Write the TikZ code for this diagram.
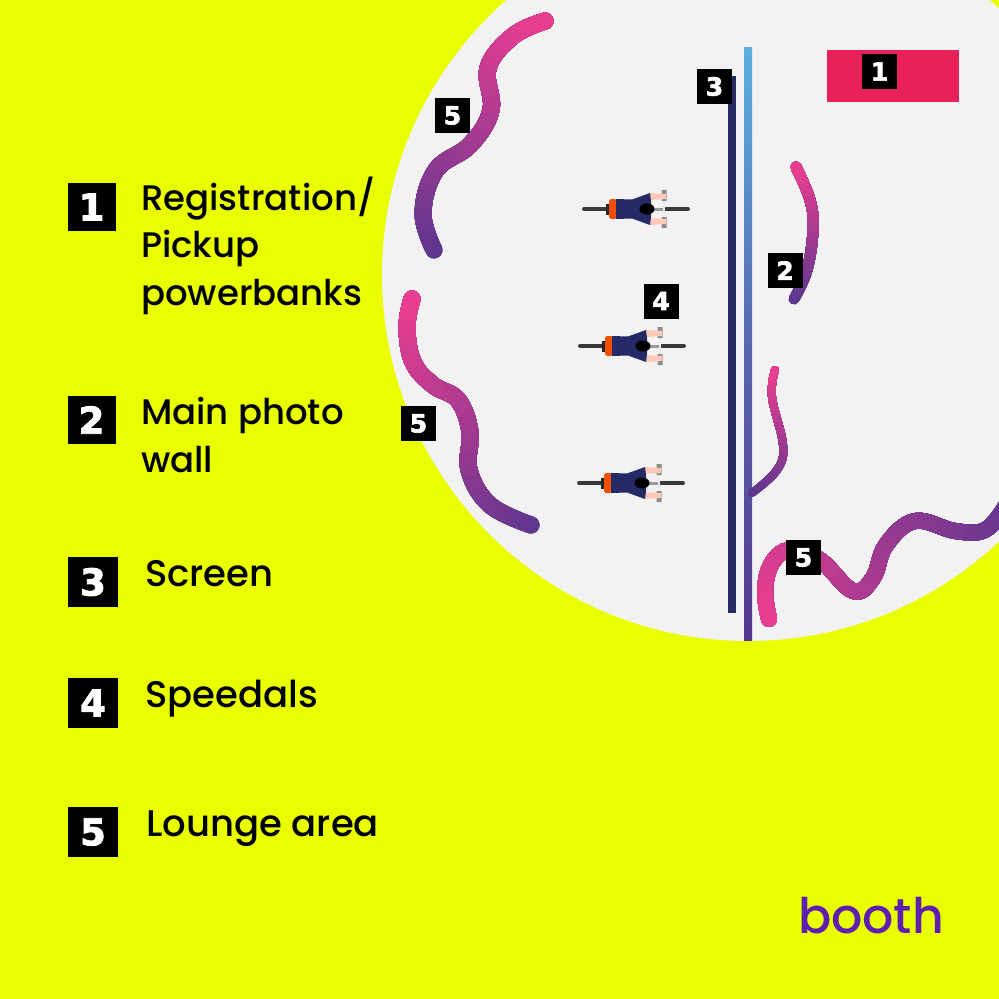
\documentclass[tikz,border=0pt]{standalone}
\usepackage{fontspec}
\setmainfont{Poppins Medium}
\newfontfamily\numfont{DejaVu Sans Bold}[FakeBold=2.5]
\usepackage{xcolor}
\usetikzlibrary{shapes.geometric}
\definecolor{lime}{HTML}{E9FF00}
\definecolor{floorgrey}{HTML}{F2F2F2}
\definecolor{wallpink}{HTML}{E83E90}
\definecolor{wallpurple}{HTML}{55368F}
\definecolor{screenblue}{HTML}{5AB0E0}
\definecolor{screendark}{HTML}{272D63}
\definecolor{regred}{HTML}{E8215A}
\definecolor{boothpurple}{HTML}{5E1FB0}
\definecolor{jersey}{HTML}{232A66}
\definecolor{skin}{HTML}{FFC9B8}
\definecolor{saddle}{HTML}{F04E00}
\tikzset{
 mapbox/.style={fill=black,text=white,minimum size=35pt,inner sep=0pt,font=\numfont\fontsize{25}{25}\selectfont},
 keybox/.style={fill=black,text=white,minimum size=#1,inner sep=0pt,font=\numfont\fontsize{37}{37}\selectfont},
 legend/.style={anchor=base west,inner sep=0pt,font=\fontsize{#1}{47.5}\selectfont,align=left},
}
% one wall: same path again and again, each time a bit shorter and pinker
\newcommand{\wall}[3]{%
 \draw[wallpurple,line width=#1,line cap=round] plot[smooth,tension=.65] coordinates {#3};
 \foreach \i in {1,...,40}{
  \pgfmathsetmacro{\mixval}{2.5*\i}
  \pgfmathsetmacro{\lenval}{#2*(41-\i)/40}
  \draw[wallpink!\mixval!wallpurple,line width=#1,line cap=round,dash pattern=on \lenval pt off 5000pt] plot[smooth,tension=.65] coordinates {#3};
 }}
% one rider, (0,0) at the helmet
\newcommand{\rider}[1]{%
 \begin{scope}[shift={(#1)}]
  \draw[black!78,line width=4pt,line cap=round] (-63,0) -- (-41,0) (19,0) -- (41,0);
  \draw[black!8,line width=1.5pt] (17,-12) -- (17,12);
  \draw[black!40,line width=3pt] (0,0) -- (16,0);
  \fill[black!45] (14.5,-19) rectangle (19.5,-8) (14.5,8) rectangle (19.5,19);
  \fill[skin] (3,-16) -- (19,-15) -- (19,-10) -- (3,-9) -- cycle (3,16) -- (19,15) -- (19,10) -- (3,9) -- cycle;
  \fill[black!85] (-41,-5.5) rectangle (-36,5.5);
  \fill[saddle,rounded corners=2.5pt] (-38,-10) rectangle (-30,10);
  \fill[jersey] (-31,-10) -- (-15,-9.5) -- (3,-16) -- (4,-8) -- (4,8) -- (3,16) -- (-15,9.5) -- (-31,10) -- cycle;
  \fill[black] (0,0) ellipse (7.5 and 5.5);
 \end{scope}}
\begin{document}
\begin{tikzpicture}[x=1pt,y=-1pt]
 \fill[lime] (0,0) rectangle (999,999);
 \useasboundingbox (0,0) rectangle (999,999);
 \clip (0,0) rectangle (999,999);
 \fill[floorgrey] (748,275) circle (366);

 \fill[regred] (827,50) rectangle (959,102);
 \fill[screendark] (728,76) rectangle (736,613);
 \shade[top color=screenblue,bottom color=wallpurple,middle color=wallpurple!60!screenblue] (744,47) rectangle (752,640);

 \wall{17pt}{300}{(545,21) (513,36) (488,68) (491,110) (470,145) (436,170) (423,213) (434,250)}
 \wall{17pt}{300}{(412,299) (407,327) (413,362) (433,385) (458,400) (470,432) (469,470) (490,505) (531,525)}
 \wall{11pt}{140}{(796,167) (810,200) (813,230) (807,270) (794,299)}
 \wall{8pt}{140}{(775,370) (772,397) (783,445) (777,470) (752,493)}
 \wall{16pt}{390}{(769,619) (765,590) (772,563) (790,550) (820,560) (853,591) (873,578) (886,545) (915,521) (955,531) (985,530) (1005,507)}

 \rider{647,209}
 \rider{643,346}
 \rider{642,483}

 \node[mapbox] (map1) at (879.5,71.5) {1};
 \node[mapbox] (map2) at (785,270.5) {2};
 \node[mapbox] (map3) at (714.5,86.5) {3};
 \node[mapbox] (map4) at (661,301) {4};
 \node[mapbox] (map5a) at (452.5,115.5) {5};
 \node[mapbox] (map5b) at (418.5,423.5) {5};
 \node[mapbox] (map5c) at (803.5,557.5) {5};

 \node[keybox=48pt] (key1) at (91.5,207) {1};
 \node[keybox=48pt] (key2) at (91.5,420) {2};
 \node[keybox=50pt] (key3) at (93,582) {3};
 \node[keybox=50pt] (key4) at (93,703) {4};
 \node[keybox=50pt] (key5) at (93,832) {5};

 \node[legend=35.5] (txt1) at (141,305) {Registration/\\Pickup\\powerbanks};
 \node[legend=35.5] (txt2) at (141,472) {Main photo\\wall};
 \node[legend=37] (txt3) at (145,586) {Screen};
 \node[legend=37] (txt4) at (145,707) {Speedals};
 \node[legend=37] (txt5) at (146,836) {Lounge area};
 \node[anchor=base west,inner sep=0pt,text=boothpurple,font=\fontsize{49}{49}\selectfont] (logo) at (798,933) {booth};
\end{tikzpicture}
\end{document}
